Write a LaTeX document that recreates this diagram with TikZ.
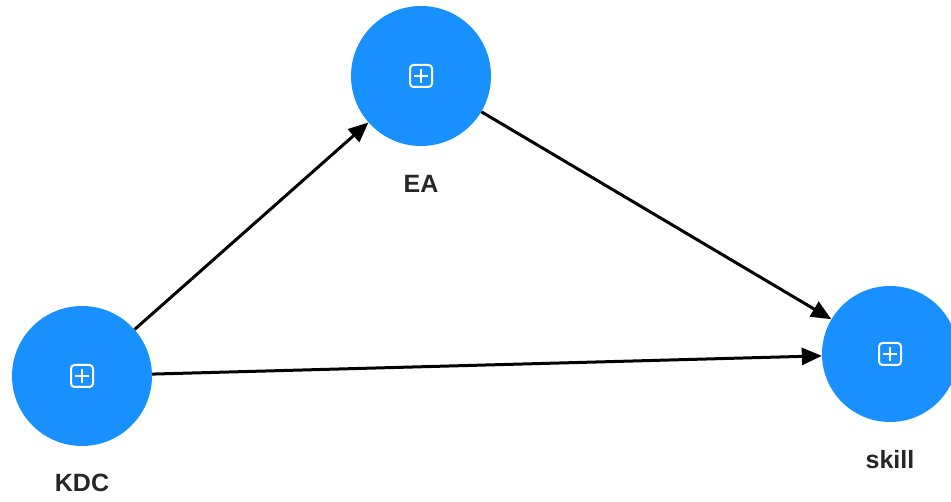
\documentclass[tikz,border=0pt]{standalone}
\usepackage{fontspec}
\setmainfont{Liberation Sans}
\usetikzlibrary{arrows.meta}
\definecolor{nodeblue}{RGB}{24,144,255}
\begin{document}
\begin{tikzpicture}
		[x=1pt,y=-1pt,
		var/.style={circle,fill=nodeblue,inner sep=0pt,minimum size=140pt,
			path picture={
				\draw[white,line width=2pt,rounded corners=3.5pt]
				([shift={(-11pt,-11pt)}]path picture bounding box.center) rectangle
				([shift={(11pt,11pt)}]path picture bounding box.center);
				\draw[white,line width=2pt]
				([xshift=-7pt]path picture bounding box.center) --
				([xshift=7pt]path picture bounding box.center)
				([yshift=-7pt]path picture bounding box.center) --
				([yshift=7pt]path picture bounding box.center);
			}},
		varlabel/.style={font=\fontsize{25}{28}\selectfont\bfseries,text=black!85},
		link/.style={line width=3pt,-{Triangle[length=20pt,width=17pt]}}]
		\useasboundingbox (0,0) rectangle (951,502);
		\node[var,label={[varlabel,label distance=26pt]below:EA}] (ea) at (421,76) {};
		\node[var,label={[varlabel,label distance=24pt]below:KDC}] (kdc) at (82,376) {};
		\node[var,minimum size=136pt,label={[varlabel,label distance=25pt]below:skill}] (skill) at (890,354) {};
		\draw[link] (kdc) -- (ea);
		\draw[link] (ea) -- (skill);
		\draw[link] (kdc) -- (skill);
	\end{tikzpicture}
\end{document}
